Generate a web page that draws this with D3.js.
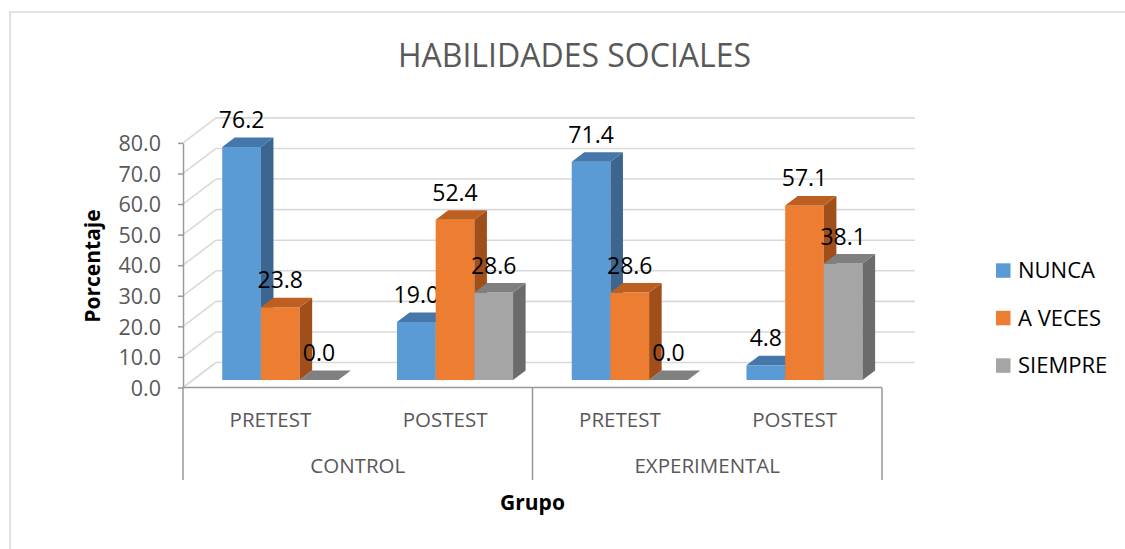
<!DOCTYPE html>
<html>
<head>
<meta charset="utf-8">
<script src="https://cdn.jsdelivr.net/npm/d3@7"></script>
<style>
  html, body { margin: 0; padding: 0; background: #fff; }
  svg { display: block; font-family: 'Open Sans', sans-serif; }
</style>
</head>
<body>
<svg id="chart" width="1125" height="549"></svg>
<script>
// ---- data ----
const groups = ["CONTROL", "EXPERIMENTAL"];
const tests = ["PRETEST", "POSTEST"];
const categories = ["CONTROL|PRETEST", "CONTROL|POSTEST", "EXPERIMENTAL|PRETEST", "EXPERIMENTAL|POSTEST"];
const series = ["NUNCA", "A VECES", "SIEMPRE"];
const nunca   = [76.2, 19.0, 71.4, 4.8];
const aveces  = [23.8, 52.4, 28.6, 57.1];
const siempre = [0.0, 28.6, 0.0, 38.1];
const yTicks = [0, 10, 20, 30, 40, 50, 60, 70, 80];
const title = "HABILIDADES SOCIALES";
const yTitle = "Porcentaje";
const xTitle = "Grupo";

const values = [nunca, aveces, siempre];
const colors = {
  front: ["#5B9BD5", "#ED7D31", "#A5A5A5"],
  top:   ["#4677AA", "#BE5F22", "#7F7F7F"],
  side:  ["#3C6590", "#A04F1B", "#6B6B6B"]
};

const svg = d3.select("#chart");

// frame border
svg.append("path")
  .attr("d", "M10,549 L10,12 L1125,12")
  .attr("fill", "none").attr("stroke", "#d9d9d9").attr("stroke-width", 1.5);

// ---- scales ----
const x0 = d3.scaleBand().domain(categories).range([183, 882]).paddingInner(0).paddingOuter(0);
const x1 = d3.scaleBand().domain(series).range([0, x0.bandwidth()]).paddingInner(0).paddingOuter(0.758);
const y = d3.scaleLinear().domain([0, 80]).range([387.5, 142.9]);
const DX = 33, DY = 25;       // full depth offset
const d0 = 0.30, d1 = 0.68;   // bar depth placement

// ---- back wall / side wall gridlines ----
const grid = svg.append("g").attr("stroke", "#d9d9d9").attr("stroke-width", 1.6).attr("fill", "none");
yTicks.forEach(t => {
  const yy = y(t);
  grid.append("line").attr("x1", 183).attr("y1", yy).attr("x2", 183 + DX).attr("y2", yy - DY);
  grid.append("line").attr("x1", 183 + DX).attr("y1", yy - DY).attr("x2", 882 + DX).attr("y2", yy - DY);
});

// ---- bars ----
const bars = svg.append("g");
categories.forEach((c, ci) => {
  series.forEach((s, si) => {
    const v = values[si][ci];
    const xl = x0(c) + x1(s) + d0 * DX;
    const xr = xl + x1.bandwidth();
    const yb = y(0) - d0 * DY;
    const yt = y(v) - d0 * DY;
    const ddx = (d1 - d0) * DX, ddy = (d1 - d0) * DY;
    if (v > 0) {
      bars.append("rect").attr("x", xl).attr("y", yt).attr("width", xr - xl).attr("height", yb - yt)
        .attr("fill", colors.front[si]);
      bars.append("path")
        .attr("d", `M${xr},${yt} L${xr + ddx},${yt - ddy} L${xr + ddx},${yb - ddy} L${xr},${yb} Z`)
        .attr("fill", colors.side[si]);
    }
    bars.append("path")
      .attr("d", `M${xl},${yt} L${xl + ddx},${yt - ddy} L${xr + ddx},${yt - ddy} L${xr},${yt} Z`)
      .attr("fill", v > 0 ? colors.top[si] : "#808080");
    // data label
    bars.append("text")
      .attr("x", (xl + xr) / 2).attr("y", yt - 19)
      .attr("text-anchor", "middle")
      .attr("font-size", 23).attr("fill", "#000")
      .text(d3.format(".1f")(v));
  });
});

// ---- y axis ----
const yAxis = d3.axisLeft(y).tickValues(yTicks).tickFormat(d3.format(".1f")).tickSize(5).tickSizeOuter(0);
const gy = svg.append("g").attr("transform", "translate(183,0)").call(yAxis);
gy.select(".domain").attr("stroke", "#999").attr("stroke-width", 1.5);
gy.selectAll(".tick line").attr("stroke", "#999").attr("stroke-width", 1.5);
gy.selectAll(".tick text").attr("font-size", 21.5).attr("fill", "#595959")
  .attr("font-family", "'Open Sans', sans-serif").attr("x", -22).attr("dy", "0.36em");

// ---- x axis (multi-level) ----
const xa = svg.append("g");
xa.append("line").attr("x1", 183).attr("x2", 882).attr("y1", y(0)).attr("y2", y(0))
  .attr("stroke", "#999").attr("stroke-width", 1.5);
const gScale = d3.scaleBand().domain(groups).range([183, 882]);
const sepX = [183, 182 + gScale.bandwidth() + 1, 882];
sepX.forEach(sx => {
  xa.append("line").attr("x1", sx).attr("x2", sx).attr("y1", y(0)).attr("y2", 480)
    .attr("stroke", "#999").attr("stroke-width", 1.5);
});
categories.forEach(c => {
  xa.append("text").attr("x", x0(c) + x0.bandwidth() / 2).attr("y", 427)
    .attr("text-anchor", "middle").attr("font-size", 20.5).attr("fill", "#595959")
    .text(c.split("|")[1]);
});
groups.forEach(g => {
  xa.append("text").attr("x", gScale(g) + gScale.bandwidth() / 2).attr("y", 472.5)
    .attr("text-anchor", "middle").attr("font-size", 20.5).attr("fill", "#595959")
    .text(g);
});

// ---- titles ----
svg.append("text").attr("x", 574.5).attr("y", 66.5).attr("text-anchor", "middle")
  .attr("font-size", 32).attr("fill", "#595959").text(title);
svg.append("text").attr("x", 532.5).attr("y", 510).attr("text-anchor", "middle")
  .attr("font-size", 21).attr("font-weight", "bold").attr("fill", "#000").text(xTitle);
svg.append("text").attr("transform", "translate(100,266) rotate(-90)").attr("text-anchor", "middle")
  .attr("font-size", 21).attr("font-weight", "bold").attr("fill", "#000").text(yTitle);

// ---- legend ----
const leg = svg.append("g");
series.forEach((s, i) => {
  const by = 278.3 + i * 47.5;
  leg.append("rect").attr("x", 996).attr("y", by - 15).attr("width", 14.5).attr("height", 14.5)
    .attr("fill", colors.front[i]);
  leg.append("text").attr("x", 1018).attr("y", by).attr("font-size", 22).attr("fill", "#000").text(s);
});
</script>
</body>
</html>
